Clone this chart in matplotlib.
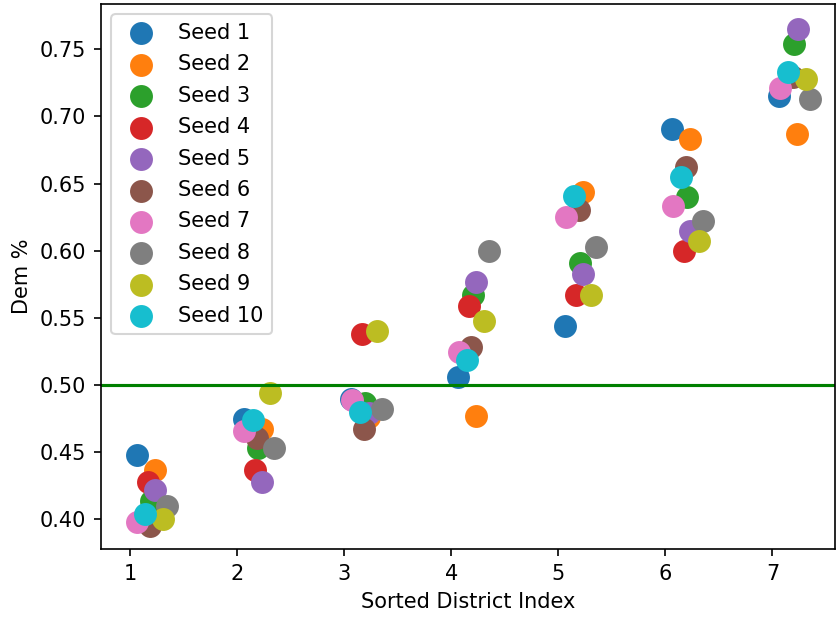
import numpy as np
import matplotlib
matplotlib.use('Agg')
import matplotlib.pyplot as plt

# sorted district index
districts = np.arange(1, 8)

# per-seed x jitter
offsets = [0.065, 0.23, 0.20, 0.17, 0.235, 0.19, 0.07, 0.35, 0.31, 0.145]

# Dem share per seed, districts sorted low -> high
seed1 = [0.448, 0.475, 0.490, 0.506, 0.544, 0.691, 0.715]
seed2 = [0.437, 0.467, 0.476, 0.477, 0.644, 0.683, 0.687]
seed3 = [0.414, 0.453, 0.487, 0.567, 0.591, 0.640, 0.754]
seed4 = [0.428, 0.437, 0.538, 0.559, 0.567, 0.600, 0.730]
seed5 = [0.422, 0.428, 0.479, 0.577, 0.583, 0.615, 0.765]
seed6 = [0.395, 0.461, 0.467, 0.528, 0.630, 0.662, 0.729]
seed7 = [0.398, 0.466, 0.489, 0.525, 0.625, 0.633, 0.721]
seed8 = [0.410, 0.453, 0.482, 0.600, 0.603, 0.622, 0.713]
seed9 = [0.400, 0.494, 0.540, 0.548, 0.567, 0.607, 0.728]
seed10 = [0.404, 0.474, 0.480, 0.519, 0.641, 0.655, 0.733]

seeds = [seed1, seed2, seed3, seed4, seed5, seed6, seed7, seed8, seed9, seed10]

fig = plt.figure(figsize=(836 / 150, 618 / 150), dpi=150)
ax = fig.add_axes([101 / 836, 69 / 618, 733.5 / 836, 545 / 618])

for i, vals in enumerate(seeds):
    ax.scatter(districts + offsets[i], vals, s=100, label='Seed %d' % (i + 1))

ax.axhline(0.5, color='green')

ax.set_xlim(0.73, 7.58)
ax.set_ylim(0.378, 0.7837)
ax.set_xticks(districts)
ax.set_xlabel('Sorted District Index')
ax.set_ylabel('Dem %')
ax.legend(loc='upper left', labelspacing=0.55)

fig.savefig('out.png', dpi=150)
